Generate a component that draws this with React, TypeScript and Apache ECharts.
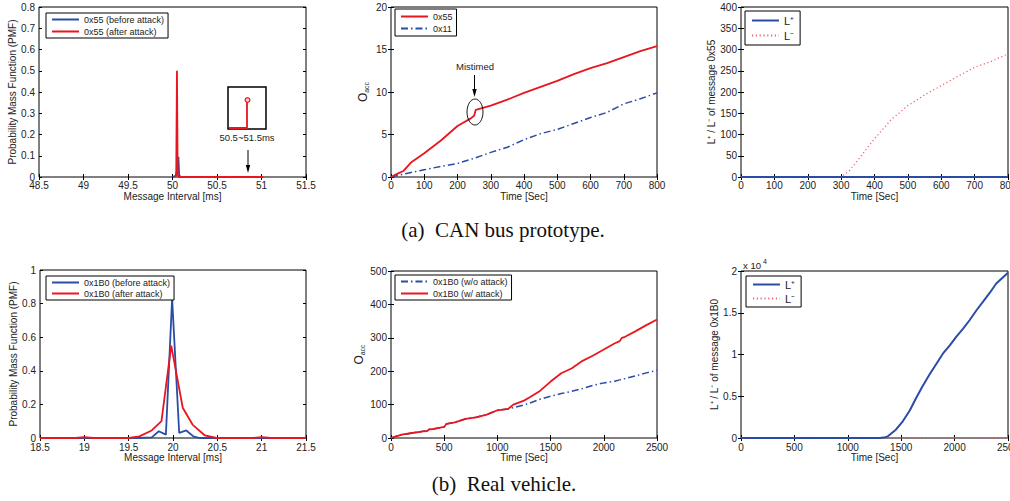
import React, { useEffect, useRef } from 'react';
import * as echarts from 'echarts';

const FONT = '"Liberation Sans", Arial, Helvetica, sans-serif';
const SERIF = '"Liberation Serif", "Times New Roman", serif';
const BLUE = '#2b4ca6';
const RED = '#e8161e';
const PINK = '#f0646a';
const TXT = '#222';

// (a) left: PMF of 0x55 message interval, CAN bus prototype
const protoBeforeX = [50.0, 50.035, 50.05, 50.066, 50.075, 50.09];
const protoBeforeY = [0, 0.005, 0.03, 0.095, 0.01, 0];
const protoAfterX = [50.03, 50.042, 50.05, 50.058, 50.07, 51.02];
const protoAfterY = [0, 0.01, 0.5, 0.01, 0, 0];

// (a) middle: O_acc over time
const oaccRedT = [0, 20, 37, 60, 100, 150, 200, 240, 250, 255, 300, 350, 400, 450, 500, 550, 600, 650, 700, 750, 800];
const oacc55 = [0, 0.4, 0.7, 1.7, 2.8, 4.3, 6.0, 6.9, 7.2, 7.9, 8.4, 9.1, 9.9, 10.6, 11.3, 12.1, 12.8, 13.4, 14.1, 14.8, 15.4];
const oaccBlueT = [0, 50, 100, 150, 200, 250, 300, 350, 400, 450, 500, 550, 600, 650, 700, 750, 800];
const oacc11 = [0, 0.45, 0.85, 1.25, 1.6, 2.2, 2.9, 3.5, 4.4, 5.1, 5.6, 6.3, 7.0, 7.6, 8.6, 9.2, 9.9];

// (a) right: L+ / L- of 0x55
const cusumProtoPlusT = [0, 800];
const cusumProtoPlus = [0, 0];
const cusumProtoMinusT = [0, 300, 325, 350, 400, 450, 500, 550, 600, 650, 700, 750, 800];
const cusumProtoMinus = [0, 0, 15, 40, 90, 135, 168, 193, 215, 237, 258, 272, 290];

// (b) left: PMF of 0x1B0 message interval, real vehicle
const realBeforeX = [18.5, 19.6, 19.76, 19.84, 19.92, 19.99, 20.07, 20.15, 20.23, 20.3, 21.5];
const realBeforeY = [0, 0, 0.004, 0.04, 0.02, 0.83, 0.03, 0.045, 0.01, 0, 0];
const realAfterX = [18.5, 18.9, 19.0, 19.1, 19.5, 19.62, 19.76, 19.87, 19.98, 20.11, 20.22, 20.36, 20.49, 20.9, 21.0, 21.1, 21.5];
const realAfterY = [0, 0, 0.005, 0, 0, 0.01, 0.045, 0.1, 0.55, 0.18, 0.08, 0.015, 0, 0, 0.005, 0, 0];

// (b) middle: O_acc of 0x1B0
const oaccRealT = [0, 50, 100, 200, 300, 340, 360, 400, 500, 520, 600, 700, 800, 900, 1000, 1100, 1150, 1250, 1300, 1400, 1500, 1600, 1700, 1800, 1900, 2000, 2100, 2150, 2170, 2200, 2300, 2400, 2500];
const oaccRealNoAtk = [0, 5, 10, 15, 20, 21, 26, 27, 33, 42, 47, 57, 62, 70, 83, 87, 91, 99, 104, 116, 125, 133, 140, 148, 158, 165, 170, 174, 176, 178, 186, 195, 203];
const oaccRealAtk = [0, 5, 10, 15, 20, 21, 26, 27, 33, 42, 47, 57, 62, 70, 83, 87, 100, 112, 121, 141, 169, 194, 209, 231, 247, 265, 283, 290, 300, 303, 320, 338, 355];

// (b) right: L+ / L- of 0x1B0
const cusumRealPlusT = [0, 1300, 1350, 1375, 1450, 1515, 1580, 1640, 1700, 1765, 1830, 1890, 1955, 2015, 2080, 2140, 2205, 2265, 2330, 2390, 2500];
const cusumRealPlus = [0, 0, 100, 200, 1000, 2000, 3300, 4800, 6200, 7600, 8900, 10100, 11100, 12100, 13100, 14100, 15300, 16300, 17400, 18500, 19800];
const cusumRealMinusT = [0, 2500];
const cusumRealMinus = [0, 0];

const zip = (xs: number[], ys: number[]) => xs.map((x, i) => [x, ys[i]]);
const plain = (v: number) => String(parseFloat(Number(v).toFixed(6)));

const grids = [
  { left: 39, top: 7, width: 267, height: 170 },
  { left: 391, top: 7, width: 266, height: 170 },
  { left: 741, top: 7, width: 267, height: 170 },
  { left: 40, top: 270, width: 266, height: 168 },
  { left: 391, top: 271, width: 266, height: 167 },
  { left: 741, top: 271, width: 267, height: 167 },
];

type AxisSpec = {
  xMin: number; xMax: number; xInt: number; xName: string; xMargin: number;
  yMin: number; yMax: number; yInt: number; yName: string; yGap: number;
  yFmt?: (v: number) => string; yRich?: any;
};

const specs: AxisSpec[] = [
  { xMin: 48.5, xMax: 51.5, xInt: 0.5, xName: 'Message Interval [ms]', xMargin: 3, yMin: 0, yMax: 0.8, yInt: 0.1, yName: 'Probability Mass Function (PMF)', yGap: 17 },
  { xMin: 0, xMax: 800, xInt: 100, xName: 'Time [Sec]', xMargin: 3, yMin: 0, yMax: 20, yInt: 5, yName: '{o|O}{s|acc}', yGap: 21, yRich: true },
  { xMin: 0, xMax: 800, xInt: 100, xName: 'Time [Sec]', xMargin: 3, yMin: 0, yMax: 400, yInt: 50, yName: 'L\u207A / L\u207B of message 0x55', yGap: 23 },
  { xMin: 18.5, xMax: 21.5, xInt: 0.5, xName: 'Message Interval [ms]', xMargin: 4, yMin: 0, yMax: 1, yInt: 0.2, yName: 'Probability Mass Function (PMF)', yGap: 19 },
  { xMin: 0, xMax: 2500, xInt: 500, xName: 'Time [Sec]', xMargin: 4, yMin: 0, yMax: 500, yInt: 100, yName: '{o|O}{s|acc}', yGap: 23, yRich: true },
  { xMin: 0, xMax: 2500, xInt: 500, xName: 'Time [Sec]', xMargin: 4, yMin: 0, yMax: 20000, yInt: 5000, yName: 'L\u207A / L\u207B of message 0x1B0', yGap: 18, yFmt: (v: number) => plain(v / 10000) },
];

const tick = { inside: true, length: 3, lineStyle: { color: '#000', width: 1 } };
const labelStyle = { fontFamily: FONT, fontSize: 10, color: TXT };

const xAxes: any[] = [];
const yAxes: any[] = [];
specs.forEach((s, i) => {
  xAxes.push({
    type: 'value', gridIndex: i, position: 'bottom', min: s.xMin, max: s.xMax, interval: s.xInt,
    name: s.xName, nameLocation: 'middle', nameGap: 14,
    nameTextStyle: { ...labelStyle },
    axisLine: { show: false }, axisTick: tick, splitLine: { show: false },
    axisLabel: { ...labelStyle, margin: s.xMargin, formatter: plain },
  });
  xAxes.push({
    type: 'value', gridIndex: i, position: 'top', min: s.xMin, max: s.xMax, interval: s.xInt,
    axisLine: { show: false }, axisTick: tick, splitLine: { show: false }, axisLabel: { show: false },
  });
  yAxes.push({
    type: 'value', gridIndex: i, position: 'left', min: s.yMin, max: s.yMax, interval: s.yInt,
    name: s.yName, nameLocation: 'middle', nameGap: s.yGap,
    nameTextStyle: s.yRich
      ? { fontFamily: FONT, color: TXT, rich: {
          o: { fontFamily: FONT, fontSize: 12, color: TXT, lineHeight: 15, verticalAlign: 'middle' },
          s: { fontFamily: FONT, fontSize: 7, color: TXT, lineHeight: 7, verticalAlign: 'bottom' },
        } }
      : { ...labelStyle },
    axisLine: { show: false }, axisTick: tick, splitLine: { show: false },
    axisLabel: { ...labelStyle, margin: 4, formatter: s.yFmt || plain },
  });
  yAxes.push({
    type: 'value', gridIndex: i, position: 'right', min: s.yMin, max: s.yMax, interval: s.yInt,
    axisLine: { show: false }, axisTick: tick, splitLine: { show: false }, axisLabel: { show: false },
  });
});

const dashDot = [7, 3, 1.5, 3];
const dotted = [1.2, 2.6];

const line = (name: string, g: number, data: number[][], color: string, width: number, type: any = 'solid', z = 2) => ({
  type: 'line', name, xAxisIndex: 2 * g, yAxisIndex: 2 * g, data, symbol: 'none', z,
  lineStyle: { color, width, type }, itemStyle: { color }, emphasis: { disabled: true }, silent: true,
});

const series = [
  line('0x55 (before attack)', 0, zip(protoBeforeX, protoBeforeY), BLUE, 1.8),
  line('0x55 (after attack)', 0, zip(protoAfterX, protoAfterY), RED, 1.8, 'solid', 3),
  line('0x55', 1, zip(oaccRedT, oacc55), RED, 1.8, 'solid', 3),
  line('0x11', 1, zip(oaccBlueT, oacc11), BLUE, 1.5, dashDot),
  line('L\u207A', 2, zip(cusumProtoPlusT, cusumProtoPlus), BLUE, 2, 'solid', 3),
  line('L\u207B', 2, zip(cusumProtoMinusT, cusumProtoMinus), PINK, 1.3, dotted, 2),
  line('0x1B0 (before attack)', 3, zip(realBeforeX, realBeforeY), BLUE, 1.8),
  line('0x1B0 (after attack)', 3, zip(realAfterX, realAfterY), RED, 1.8, 'solid', 3),
  line('0x1B0 (w/o attack)', 4, zip(oaccRealT, oaccRealNoAtk), BLUE, 1.5, dashDot),
  line('0x1B0 (w/ attack)', 4, zip(oaccRealT, oaccRealAtk), RED, 1.8, 'solid', 3),
  line('L\u207A', 5, zip(cusumRealPlusT, cusumRealPlus), BLUE, 2, 'solid', 3),
  line('L\u207B', 5, zip(cusumRealMinusT, cusumRealMinus), PINK, 1.3, dotted, 2),
];

const legend = (names: string[], left: number, top: number, lineHeight: number, gap: number, pad: number[], fontSize = 9) => ({
  data: names, orient: 'vertical', left, top, padding: pad, itemGap: gap, itemWidth: 27, itemHeight: 8,
  backgroundColor: '#fff', borderColor: '#000', borderWidth: 1, selectedMode: false,
  itemStyle: { opacity: 0, borderWidth: 0 },
  textStyle: { fontFamily: FONT, fontSize, color: TXT, lineHeight },
});

const legends = [
  legend(['0x55 (before attack)', '0x55 (after attack)'], 46, 13, 11, 1, [1, 4, 1, 5]),
  legend(['0x55', '0x11'], 395, 9, 11, 1, [2, 4, 2, 5]),
  legend(['L\u207A', 'L\u207B'], 745, 11, 13, 2, [3, 6, 3, 6], 11),
  legend(['0x1B0 (before attack)', '0x1B0 (after attack)'], 46, 276, 11, 0, [1, 4, 1, 5]),
  legend(['0x1B0 (w/o attack)', '0x1B0 (w/ attack)'], 395, 275, 11, 1, [1, 4, 1, 5]),
  legend(['L\u207A', 'L\u207B'], 746, 276, 13, 1, [2, 6, 2, 6], 11),
];

const ann = { fontFamily: FONT, fontSize: 9.5, fill: TXT };

const graphic = [
  // inset in (a) left
  { type: 'rect', z: 100, shape: { x: 228, y: 87, width: 38, height: 42 }, style: { fill: '#fff', stroke: '#000', lineWidth: 1.5 } },
  { type: 'polyline', z: 101, shape: { points: [[229, 128], [247, 128], [247, 100]] }, style: { stroke: RED, lineWidth: 1.8, fill: 'none' } },
  { type: 'circle', z: 102, shape: { cx: 247.5, cy: 100, r: 2.4 }, style: { stroke: RED, lineWidth: 1.2, fill: '#fcc' } },
  { type: 'text', z: 100, x: 247, y: 137, style: { ...ann, text: '50.5~51.5ms', align: 'center', verticalAlign: 'middle' } },
  { type: 'line', z: 100, shape: { x1: 248, y1: 150, x2: 248, y2: 168 }, style: { stroke: '#000', lineWidth: 1 } },
  { type: 'polygon', z: 100, shape: { points: [[245.8, 165], [250.2, 165], [248, 173]] }, style: { fill: '#000' } },
  // Mistimed annotation in (a) middle
  { type: 'text', z: 100, x: 475, y: 66, style: { ...ann, text: 'Mistimed', align: 'center', verticalAlign: 'middle' } },
  { type: 'line', z: 100, shape: { x1: 474.5, y1: 75, x2: 474.5, y2: 91 }, style: { stroke: '#000', lineWidth: 1 } },
  { type: 'polygon', z: 100, shape: { points: [[472.3, 89], [476.7, 89], [474.5, 97]] }, style: { fill: '#000' } },
  { type: 'ellipse', z: 100, shape: { cx: 475, cy: 112, rx: 8, ry: 13 }, style: { stroke: '#000', lineWidth: 0.9, fill: 'none' } },
  // exponent label (b) right
  { type: 'text', z: 100, x: 743, y: 265, style: { ...ann, text: 'x 10', align: 'left', verticalAlign: 'middle' } },
  { type: 'text', z: 100, x: 763, y: 261, style: { ...ann, fontSize: 7, text: '4', align: 'left', verticalAlign: 'middle' } },
  // captions
  { type: 'text', z: 100, x: 503, y: 230, style: { fontFamily: SERIF, fontSize: 21, fill: '#111', text: '(a)  CAN bus prototype.', align: 'center', verticalAlign: 'middle' } },
  { type: 'text', z: 100, x: 504, y: 484, style: { fontFamily: SERIF, fontSize: 21, fill: '#111', text: '(b)  Real vehicle.', align: 'center', verticalAlign: 'middle' } },
];

const option: any = {
  animation: false,
  backgroundColor: '#fff',
  textStyle: { fontFamily: FONT },
  grid: grids.map((g) => ({
    ...g, show: true, borderColor: '#000', borderWidth: 1, backgroundColor: 'transparent',
    containLabel: false, outerBoundsMode: 'none',
  })),
  xAxis: xAxes,
  yAxis: yAxes,
  legend: legends,
  series,
  graphic,
};

export default function App() {
  const ref = useRef<HTMLDivElement>(null);
  useEffect(() => {
    const chart = echarts.init(ref.current!, null, { renderer: 'svg' });
    chart.setOption(option);
    return () => chart.dispose();
  }, []);
  return (
    <div
      ref={ref}
      style={{ position: 'fixed', left: 0, top: 0, width: 1010, height: 501, background: '#fff' }}
    />
  );
}
